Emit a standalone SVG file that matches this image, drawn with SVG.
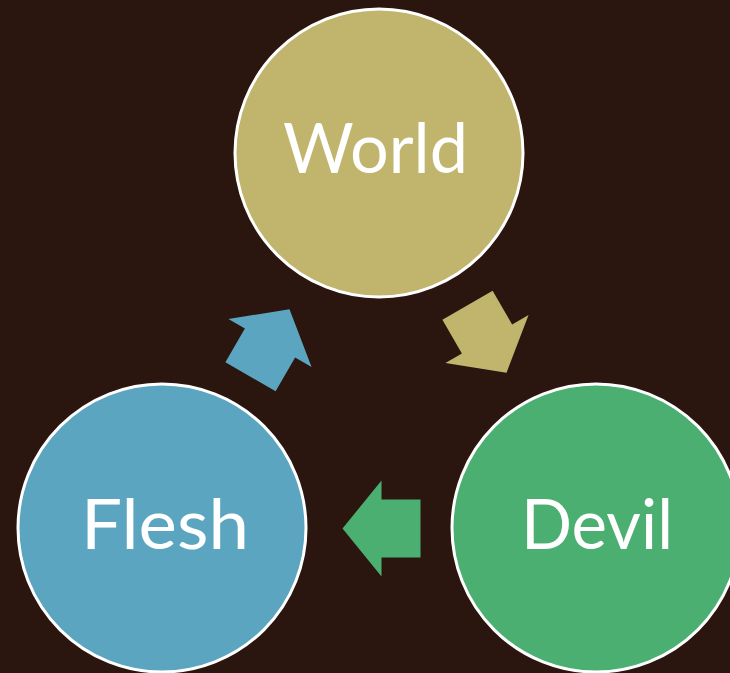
<svg xmlns="http://www.w3.org/2000/svg" width="730" height="673" viewBox="0 0 730 673">
<defs>
<style>
.node circle{stroke:#ffffff;stroke-width:3}
.lbl{font-family:Lato,"Open Sans","Liberation Sans",sans-serif;font-size:70px;fill:#ffffff}
</style>
<polygon id="arr" points="-39,0 0,-48 0,-29 39,-29 39,29 0,29 0,48"/>
</defs>
<rect x="0" y="0" width="730" height="673" fill="#2a160e"/>
<g id="connectors">
<use href="#arr" fill="#5ba5c1" transform="translate(270,343) rotate(120)"/>
<use href="#arr" fill="#c1b46d" transform="translate(487,339) rotate(-120)"/>
<use href="#arr" fill="#4caf72" transform="translate(381.5,528.5)"/>
</g>
<g id="world" class="node">
<circle cx="379" cy="153" r="144" fill="#c1b46d"/>
<text class="lbl" x="283" y="173" textLength="185" lengthAdjust="spacingAndGlyphs">World</text>
</g>
<g id="flesh" class="node">
<circle cx="162" cy="528" r="144" fill="#5ba5c1"/>
<text class="lbl" x="81" y="549" textLength="168" lengthAdjust="spacingAndGlyphs">Flesh</text>
</g>
<g id="devil" class="node">
<circle cx="596" cy="528" r="144" fill="#4caf72"/>
<text class="lbl" x="521" y="549" textLength="152" lengthAdjust="spacingAndGlyphs">Devil</text>
</g>
</svg>
